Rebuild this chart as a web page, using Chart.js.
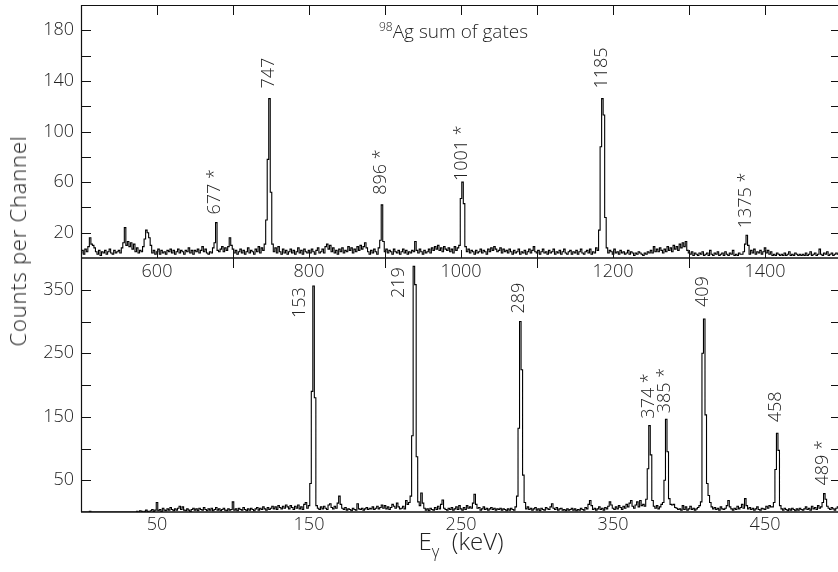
<!DOCTYPE html>
<html>
<head>
<meta charset="utf-8">
<script src="https://cdn.jsdelivr.net/npm/chart.js@4.4.0/dist/chart.umd.min.js"></script>
<style>
  html, body { margin: 0; padding: 0; background: #fff; }
  #wrap { position: relative; width: 838px; height: 572px; overflow: hidden; font-family: 'Open Sans', sans-serif; color: #222; font-weight: 300; }
  canvas { position: absolute; left: 0; top: 0; }
  .ytitle { position: absolute; left: 17px; top: 241px; transform: translate(-50%, -50%) rotate(-90deg); font-size: 22px; letter-spacing: 0.8px; white-space: nowrap; }
  .xtitle { position: absolute; left: 461px; top: 529px; transform: translateX(-50%); font-size: 24px; line-height: 1; white-space: nowrap; }
  .xtitle sub { font-size: 16px; vertical-align: -7px; }
  .note { position: absolute; left: 379px; top: 21px; font-size: 19px; line-height: 1; white-space: nowrap; }
  .note sup { font-size: 12px; vertical-align: 7px; }
</style>
</head>
<body>
<div id="wrap">
  <canvas id="topChart" width="838" height="572"></canvas>
  <canvas id="bottomChart" width="838" height="572"></canvas>
  <div class="ytitle">Counts per Channel</div>
  <div class="xtitle">E<sub>γ</sub>&nbsp;&nbsp;(keV)</div>
  <div class="note"><sup>98</sup>Ag sum of gates</div>
</div>
<script>
// 위쪽 스펙트럼: 500 keV 부터 2 keV 채널
const topStart = 500;
const topStep = 2;
const topCounts = [
  4,6,3,7,5,9,16,11,10,8,5,3,6,2,5,4,6,3,5,7,4,3,6,4,5,
  6,4,8,12,24,10,13,9,12,7,11,5,8,4,6,5,9,15,22,20,16,10,4,6,3,
  5,7,3,6,4,5,3,6,5,7,4,6,3,5,7,4,6,5,3,6,5,8,4,6,3,
  6,5,7,4,6,9,5,7,4,3,5,4,8,12,28,6,5,7,9,5,8,6,9,16,10,
  7,4,6,3,5,7,4,6,3,5,8,4,6,5,3,7,5,9,4,8,6,11,30,78,126,
  52,11,5,8,4,9,5,3,7,4,6,3,5,7,4,6,3,5,8,4,6,3,7,5,4,
  6,4,7,5,3,6,8,4,5,7,4,9,11,7,10,5,8,4,6,3,7,5,8,4,6,
  5,9,6,8,4,7,5,9,6,10,7,9,12,8,5,3,6,4,7,5,3,8,14,42,13,
  5,7,4,6,5,3,7,5,4,6,3,5,7,4,6,3,5,4,6,5,13,6,4,7,5,
  3,6,4,5,7,4,8,6,9,7,10,6,8,5,9,7,6,8,5,7,4,9,6,8,10,
  47,60,43,9,5,7,4,6,5,3,6,4,5,7,4,6,5,3,7,5,8,6,9,7,5,
  6,8,4,7,5,6,4,7,5,3,6,4,5,7,3,5,4,6,3,5,7,4,6,9,5,
  4,6,3,5,7,4,5,3,6,4,5,7,3,5,4,6,3,5,7,4,3,5,6,3,5,
  4,6,3,5,7,4,3,5,6,4,7,3,5,4,8,6,22,88,126,113,32,8,4,6,5,
  3,7,4,5,3,6,4,5,3,4,6,3,5,4,2,4,3,5,4,3,2,4,3,5,4,
  6,4,9,5,7,5,8,6,4,7,5,9,6,8,5,10,7,9,6,11,8,12,9,13,6,
  4,3,5,2,4,3,2,4,3,5,2,3,4,2,6,3,2,4,3,5,2,3,4,2,5,
  3,2,4,3,6,2,3,2,4,3,3,5,11,18,10,3,6,4,7,3,5,4,6,3,5,
  8,4,6,3,5,2,3,2,4,3,2,3,2,4,2,3,5,2,3,2,4,3,2,3,2,
  3,2,4,2,3,5,2,3,4,2,3,7,3,2,4,3,5,2,3,4,2,3,4,3
];
const topXLabels = [600, 800, 1000, 1200, 1400];
const topXMarks = [600, 700, 800, 900, 1000, 1100, 1200, 1300, 1400];
const topYLabels = [20, 60, 100, 140, 180];
const topYMarks = [20, 40, 60, 80, 100, 120, 140, 160, 180];
const topPeaks = [677, 747, 896, 1001, 1185, 1375];
const topPeakText = ['677 *', '747', '896 *', '1001 *', '1185', '1375 *'];

// 아래쪽 스펙트럼: 0 keV 부터 1 keV 채널
const bottomStart = 0;
const bottomStep = 1;
const bottomCounts = [
  0,0,0,0,0,0,1,0,0,0,0,0,0,0,0,0,0,0,0,0,0,0,0,0,0,
  0,0,0,0,0,0,0,0,0,0,0,0,1,0,2,1,0,1,3,1,0,2,4,1,3,
  15,2,4,1,6,3,2,5,3,7,4,2,5,3,6,9,4,8,3,2,5,3,1,4,6,
  3,5,2,6,4,3,7,4,2,5,3,6,2,4,7,3,5,2,4,6,3,2,5,3,4,
  16,3,5,2,6,4,3,7,4,2,5,3,6,4,2,5,7,3,6,4,8,5,3,7,4,
  6,9,5,8,4,10,7,5,9,6,11,8,5,10,7,4,9,6,11,5,8,4,12,15,6,
  10,45,190,356,180,10,6,4,8,5,9,6,4,11,13,7,5,9,6,14,25,12,6,4,7,
  3,5,4,2,6,4,3,13,5,4,6,3,5,7,4,6,5,8,4,6,9,5,7,11,6,
  10,5,8,4,7,12,9,6,14,8,5,6,9,5,18,12,15,25,120,387,358,87,16,10,30,
  14,6,3,5,2,6,4,3,7,4,9,5,12,19,6,4,3,6,4,7,3,5,8,4,10,
  5,3,7,4,10,6,8,6,14,28,12,6,7,3,5,8,4,6,3,5,7,4,6,3,5,
  4,6,3,5,4,2,5,3,6,4,3,8,25,132,300,224,58,15,5,8,4,6,3,5,7,
  3,5,2,6,4,3,7,5,4,8,13,6,4,7,3,5,6,3,4,2,5,3,4,6,3,
  5,2,4,3,6,4,3,7,5,12,18,10,4,6,3,5,8,4,6,3,7,5,9,16,11,
  6,4,8,5,10,7,4,9,6,12,8,14,18,9,6,11,16,8,18,10,12,9,20,68,136,
  90,18,9,6,10,5,8,12,15,50,146,95,21,12,11,12,7,6,4,5,3,10,4,8,3,
  5,9,4,6,3,5,7,10,16,250,304,153,45,26,15,8,5,7,4,6,3,8,5,4,6,
  10,18,8,5,3,6,4,9,5,7,12,6,21,10,5,7,4,6,3,5,8,4,3,6,5,
  4,9,6,10,8,8,15,67,124,97,10,5,3,6,4,2,5,3,6,4,2,5,3,6,4,
  3,5,8,4,6,3,9,5,7,4,10,6,8,15,29,20,9,6,4,7,5,3,6,8
];
const bottomXLabels = [50, 150, 250, 350, 450];
const bottomXMarks = [100, 200, 300, 400];
const bottomYLabels = [50, 150, 250, 350];
const bottomYMarks = [50, 100, 150, 200, 250, 300, 350];
const bottomPeaks = [153, 219, 289, 374, 385, 409, 458, 489];
const bottomPeakText = ['153', '219', '289', '374 *', '385 *', '409', '458', '489 *'];

const FONT = "'Open Sans', sans-serif";
const INK = '#222';

// 테두리와 안쪽 눈금
const framePlugin = {
    id: 'frame',
    afterDatasetsDraw(chart, args, o) {
        const { ctx, chartArea: a } = chart;
        const x = chart.scales.x, y = chart.scales.y;
        ctx.save();
        ctx.strokeStyle = '#111';
        ctx.lineWidth = 1;
        ctx.beginPath();
        o.yMarks.forEach(v => {
            const py = Math.round(y.getPixelForValue(v)) + 0.5;
            ctx.moveTo(a.left, py); ctx.lineTo(a.left + 10, py);
            ctx.moveTo(a.right, py); ctx.lineTo(a.right - 7, py);
        });
        o.topMarks.forEach(v => {
            const px = Math.round(x.getPixelForValue(v)) + 0.5;
            ctx.moveTo(px, a.top); ctx.lineTo(px, a.top + 10);
        });
        o.bottomMarks.forEach(v => {
            const px = Math.round(x.getPixelForValue(v)) + 0.5;
            ctx.moveTo(px, a.bottom); ctx.lineTo(px, a.bottom - 8);
        });
        ctx.stroke();
        ctx.beginPath();
        ctx.lineWidth = 1.2;
        ctx.moveTo(a.left + 0.5, a.top); ctx.lineTo(a.left + 0.5, a.bottom);
        if (o.drawTop) { ctx.moveTo(a.left, a.top + 0.5); ctx.lineTo(a.right, a.top + 0.5); }
        ctx.stroke();
        ctx.beginPath();
        ctx.lineWidth = 1.6;
        ctx.moveTo(a.left, a.bottom); ctx.lineTo(a.right, a.bottom);
        ctx.stroke();
        ctx.restore();
    }
};

// 피크 에너지 라벨 (세로 글씨)
const peakLabelPlugin = {
    id: 'peakLabels',
    afterDatasetsDraw(chart, args, o) {
        const { ctx, chartArea: a } = chart;
        const x = chart.scales.x, y = chart.scales.y;
        const pts = chart.data.datasets[0].data;
        ctx.save();
        ctx.fillStyle = INK;
        ctx.font = '300 18px ' + FONT;
        ctx.textAlign = 'left';
        ctx.textBaseline = 'middle';
        o.peaks.forEach((e, i) => {
            let best = null;
            pts.forEach(p => {
                if (Math.abs(p.x - e) <= 3 && (!best || p.y > best.y)) best = p;
            });
            const side = o.side[i];
            let px = x.getPixelForValue(best.x) - 1;
            let py = y.getPixelForValue(best.y) - o.gaps[i];
            if (side) {
                px += side.dx;
                py = a.top + side.dy;
            }
            ctx.save();
            ctx.translate(px, py);
            ctx.rotate(-Math.PI / 2);
            ctx.fillText(o.text[i], 0, 0);
            ctx.restore();
        });
        ctx.restore();
    }
};

function makeChart(id, cfg) {
    const pts = cfg.counts.map((c, i) => ({ x: cfg.start + i * cfg.step, y: c }));
    return new Chart(document.getElementById(id), {
        type: 'line',
        data: {
            datasets: [{
                data: pts,
                stepped: 'middle',
                borderColor: '#000',
                borderWidth: 1.1,
                pointRadius: 0,
                fill: false
            }]
        },
        plugins: [framePlugin, peakLabelPlugin],
        options: {
            responsive: false,
            animation: false,
            devicePixelRatio: 1,
            layout: { padding: cfg.padding },
            plugins: {
                legend: { display: false },
                tooltip: { enabled: false },
                frame: cfg.frame,
                peakLabels: cfg.labels
            },
            scales: {
                x: {
                    type: 'linear',
                    min: cfg.xMin,
                    max: cfg.xMax,
                    grid: { display: false, drawTicks: false },
                    border: { display: false },
                    afterBuildTicks: s => { s.ticks = cfg.xLabels.map(v => ({ value: v })); },
                    afterFit: s => { s.height = 30; s.paddingLeft = 0; s.paddingRight = 0; },
                    ticks: { padding: cfg.xPad, maxRotation: 0, autoSkip: false, color: INK,
                        font: { family: FONT, size: 18, weight: 300 }, callback: v => String(v) }
                },
                y: {
                    min: 0,
                    max: cfg.yMax,
                    grid: { display: false, drawTicks: false },
                    border: { display: false },
                    afterBuildTicks: s => { s.ticks = cfg.yLabels.map(v => ({ value: v })); },
                    afterFit: s => { s.width = 81; s.paddingTop = 0; s.paddingBottom = 0; },
                    ticks: { padding: 7, color: INK,
                        font: { family: FONT, size: 18, weight: 300 }, callback: v => String(v) }
                }
            }
        }
    });
}

window.onload = function () {
    makeChart('topChart', {
        counts: topCounts, start: topStart, step: topStep,
        xMin: 500, xMax: 1496, yMax: 200,
        xLabels: topXLabels, yLabels: topYLabels, xPad: 3,
        padding: { left: 0, right: 0, top: 5, bottom: 284 },
        frame: { yMarks: topYMarks, topMarks: topXMarks, bottomMarks: topXMarks, drawTop: true },
        labels: { peaks: topPeaks, text: topPeakText, gaps: [8, 10, 10, 1, 10, 7], side: {} }
    });
    makeChart('bottomChart', {
        counts: bottomCounts, start: bottomStart, step: bottomStep,
        xMin: 0, xMax: 498, yMax: 400,
        xLabels: bottomXLabels, yLabels: bottomYLabels, xPad: 2,
        padding: { left: 0, right: 0, top: 258, bottom: 30 },
        frame: { yMarks: bottomYMarks, topMarks: bottomXMarks, bottomMarks: [], drawTop: false },
        labels: { peaks: bottomPeaks, text: bottomPeakText, gaps: [0, 0, 8, 7, 6, 12, 11, 8],
            side: { 0: { dx: -13, dy: 60 }, 1: { dx: -14, dy: 40 } } }
    });
};
</script>
</body>
</html>
